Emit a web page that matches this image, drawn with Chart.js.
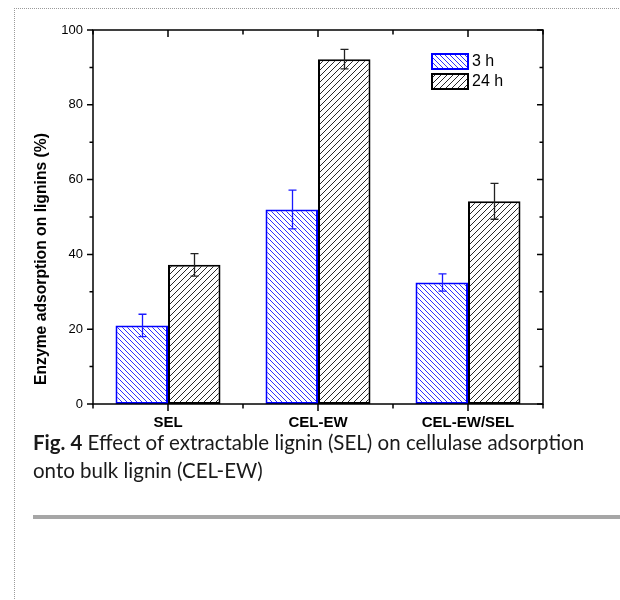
<!DOCTYPE html>
<html>
<head>
<meta charset="UTF-8">
<title>Fig. 4</title>
<script src="https://cdn.jsdelivr.net/npm/chart.js@4"></script>
<style>
  body { margin: 0; background: #fff; width: 620px; height: 600px; position: relative; overflow: hidden; }
  #frame { position: absolute; left: 14px; top: 8px; width: 620px; height: 600px; border-left: 1px dotted #9a9a9a; border-top: 1px dotted #9a9a9a; }
  #chart-box { position: absolute; left: 0; top: 0; width: 620px; height: 440px; }
  #caption { position: absolute; left: 33px; top: 428px; font-family: Lato, sans-serif; font-size: 20.5px; line-height: 28px; color: #1a1a1a; white-space: nowrap; }
  #rule { position: absolute; left: 33px; top: 515px; width: 587px; height: 4px; background: #a6a6a6; }
</style>
</head>
<body>
<div id="frame"></div>
<div id="chart-box"><canvas id="adsorption" width="620" height="440"></canvas></div>
<div id="caption"><b>Fig. 4</b> Effect of extractable lignin (SEL) on cellulase adsorption<br>onto bulk lignin (CEL-EW)</div>
<div id="rule"></div>
<script>
var categories = ['SEL', 'CEL-EW', 'CEL-EW/SEL'];
var seriesNames = ['3 h', '24 h'];
var adsorption3h = [21.0, 52.0, 32.5];
var error3h = [3.0, 5.2, 2.3];
var adsorption24h = [37.2, 92.2, 54.2];
var error24h = [3.0, 2.6, 4.8];
var yTitle = 'Enzyme adsorption on lignins (%)';

Chart.defaults.font.family = "'Liberation Sans', Arial, sans-serif";
Chart.defaults.color = '#000';

// diagonal hatch fill, dir 1 = '/', dir -1 = '\'
function hatch(color, size, dir) {
  var c = document.createElement('canvas');
  c.width = size; c.height = size;
  var g = c.getContext('2d');
  g.fillStyle = '#fff';
  g.fillRect(0, 0, size, size);
  g.strokeStyle = color;
  g.lineWidth = 0.9;
  g.beginPath();
  if (dir > 0) {
    g.moveTo(-1, size + 1); g.lineTo(size + 1, -1);
    g.moveTo(-1, 1); g.lineTo(1, -1);
    g.moveTo(size - 1, size + 1); g.lineTo(size + 1, size - 1);
  } else {
    g.moveTo(-1, -1); g.lineTo(size + 1, size + 1);
    g.moveTo(size - 1, -1); g.lineTo(size + 1, 1);
    g.moveTo(-1, size - 1); g.lineTo(1, size + 1);
  }
  g.stroke();
  return g.createPattern(c, 'repeat');
}

var blueHatch = hatch('#1a1aff', 5, -1);
var blackHatch = hatch('#111', 6, 1);

var errorBars = {
  id: 'errorBars',
  afterDatasetsDraw: function(chart) {
    var ctx = chart.ctx, y = chart.scales.y;
    chart.data.datasets.forEach(function(ds, di) {
      var meta = chart.getDatasetMeta(di);
      ctx.save();
      ctx.strokeStyle = ds.errorColor;
      ctx.lineWidth = 1.3;
      meta.data.forEach(function(bar, i) {
        var top = y.getPixelForValue(ds.data[i] + ds.errors[i]);
        var bot = y.getPixelForValue(ds.data[i] - ds.errors[i]);
        var x = Math.round(bar.x) + 0.5;
        ctx.beginPath();
        ctx.moveTo(x, top); ctx.lineTo(x, bot);
        ctx.moveTo(x - 4, top); ctx.lineTo(x + 4, top);
        ctx.moveTo(x - 4, bot); ctx.lineTo(x + 4, bot);
        ctx.stroke();
      });
      ctx.restore();
    });
  }
};

var frame = {
  id: 'frame',
  afterDraw: function(chart) {
    var ctx = chart.ctx, a = chart.chartArea;
    var xs = chart.scales.x, ys = chart.scales.y;
    ctx.save();
    ctx.strokeStyle = '#000';
    ctx.lineWidth = 1.5;
    ctx.strokeRect(a.left, a.top, a.right - a.left, a.bottom - a.top);
    ctx.beginPath();
    // y ticks: out on the left, in on the right
    for (var v = 0; v <= 100; v += 10) {
      var py = ys.getPixelForValue(v);
      var len = v % 20 === 0 ? 6 : 3.5;
      ctx.moveTo(a.left - len, py); ctx.lineTo(a.left, py);
      ctx.moveTo(a.right - len, py); ctx.lineTo(a.right, py);
    }
    // x ticks: out at the bottom, in at the top
    for (var i = 0; i < categories.length; i++) {
      var cx = xs.getPixelForValue(i);
      var half = (xs.getPixelForValue(1) - xs.getPixelForValue(0)) / 2;
      [[cx, 7], [cx - half, 4.5], [cx + half, 4.5]].forEach(function(t) {
        ctx.moveTo(t[0], a.bottom); ctx.lineTo(t[0], a.bottom + t[1]);
        ctx.moveTo(t[0], a.top); ctx.lineTo(t[0], a.top + t[1]);
      });
    }
    ctx.stroke();

    // y axis title
    ctx.save();
    ctx.translate(42, 259);
    ctx.rotate(-Math.PI / 2);
    ctx.font = "bold 15.7px 'Liberation Sans', Arial, sans-serif";
    ctx.fillStyle = '#000';
    ctx.textAlign = 'center';
    ctx.textBaseline = 'middle';
    ctx.fillText(yTitle, 0, 0);
    ctx.restore();

    // legend
    chart.data.datasets.forEach(function(ds, di) {
      var bx = 432, by = 54 + di * 20;
      ctx.fillStyle = ds.backgroundColor;
      ctx.fillRect(bx, by, 36, 15);
      ctx.lineWidth = 2;
      ctx.strokeStyle = ds.borderColor;
      ctx.strokeRect(bx, by, 36, 15);
      ctx.fillStyle = '#000';
      ctx.font = "16px 'Liberation Sans', Arial, sans-serif";
      ctx.textBaseline = 'middle';
      ctx.fillText(ds.label, bx + 40, by + 8);
    });
    ctx.restore();
  }
};

new Chart(document.getElementById('adsorption'), {
  type: 'bar',
  data: {
    labels: categories,
    datasets: [
      {
        label: seriesNames[0],
        data: adsorption3h,
        errors: error3h,
        errorColor: '#1a1aff',
        backgroundColor: blueHatch,
        borderColor: '#0000ff',
        borderWidth: 2,
        borderSkipped: false,
        categoryPercentage: 0.7,
        barPercentage: 1.0
      },
      {
        label: seriesNames[1],
        data: adsorption24h,
        errors: error24h,
        errorColor: '#222',
        backgroundColor: blackHatch,
        borderColor: '#000',
        borderWidth: 2,
        borderSkipped: false,
        categoryPercentage: 0.7,
        barPercentage: 1.0
      }
    ]
  },
  options: {
    responsive: false,
    animation: false,
    layout: { padding: { top: 30, right: 77, left: 0, bottom: 0 } },
    plugins: { legend: { display: false }, tooltip: { enabled: false } },
    scales: {
      x: {
        grid: { display: false, drawTicks: false },
        border: { display: false },
        ticks: { font: { size: 15, weight: 'bold' }, padding: 10 },
        afterFit: function(s) { s.height = 36; }
      },
      y: {
        min: 0,
        max: 100,
        grid: { display: false, drawTicks: false },
        border: { display: false },
        ticks: { stepSize: 20, font: { size: 13 }, padding: 10 },
        afterFit: function(s) { s.width = 93; }
      }
    }
  },
  plugins: [errorBars, frame]
});
</script>
</body>
</html>
